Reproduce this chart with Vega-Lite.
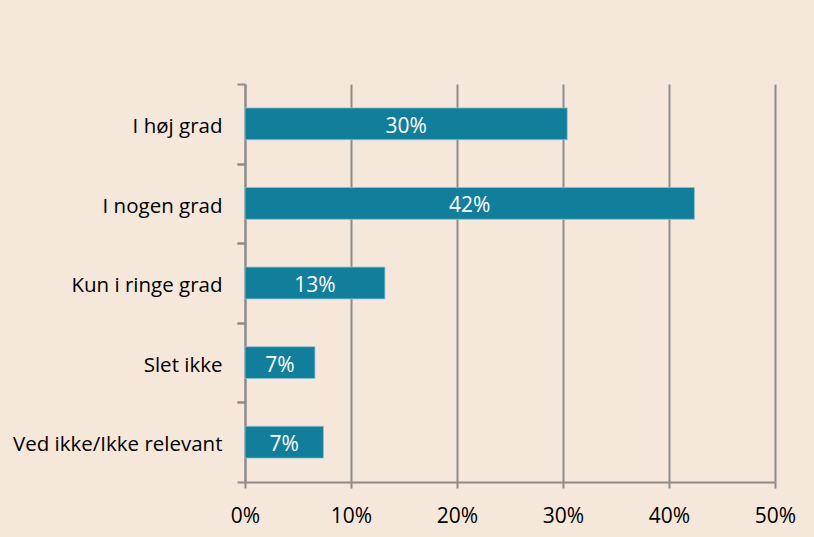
{
  "$schema": "https://vega.github.io/schema/vega-lite/v6.json",
  "width": 530,
  "height": 398,
  "autosize": {"type": "none"},
  "padding": {"left": 245, "top": 84, "right": 39, "bottom": 55},
  "background": "#F5E8DB",
  "config": {
    "view": {"stroke": null},
    "font": "Open Sans"
  },
  "data": {
    "values": [
      {"kategori": "I høj grad", "andel": 0.304},
      {"kategori": "I nogen grad", "andel": 0.424},
      {"kategori": "Kun i ringe grad", "andel": 0.132},
      {"kategori": "Slet ikke", "andel": 0.066},
      {"kategori": "Ved ikke/Ikke relevant", "andel": 0.074}
    ]
  },
  "resolve": {"axis": {"y": "independent"}},
  "layer": [
    {
      "mark": {"type": "bar", "color": "#117E9B", "stroke": "#8FC3D2", "strokeWidth": 0.8},
      "encoding": {
        "x": {
          "field": "andel",
          "type": "quantitative",
          "scale": {"domain": [0, 0.5]},
          "title": null,
          "axis": {
            "format": ".0%",
            "values": [0, 0.1, 0.2, 0.3, 0.4, 0.5],
            "grid": true,
            "gridColor": "#8C8C8C",
            "gridWidth": 2,
            "domainColor": "#8C8C8C",
            "domainWidth": 2,
            "tickColor": "#8C8C8C",
            "tickWidth": 2,
            "tickSize": 6,
            "labelFont": "Open Sans",
            "labelFontSize": 21,
            "labelColor": "#000000",
            "labelPadding": 17,
            "labelFlush": false
          }
        },
        "y": {
          "field": "kategori",
          "type": "nominal",
          "sort": null,
          "title": null,
          "scale": {"paddingInner": 0.6, "paddingOuter": 0.3},
          "axis": {
            "bandPosition": 0.5,
            "tickOffset": -39.8,
            "labelOffset": 42.5,
            "domainColor": "#8C8C8C",
            "domainWidth": 2,
            "tickColor": "#8C8C8C",
            "tickWidth": 2,
            "tickSize": 8,
            "labelFont": "Open Sans",
            "labelFontSize": 20.5,
            "labelColor": "#000000",
            "labelPadding": 15,
            "labelAlign": "right",
            "labelLimit": 300
          }
        }
      }
    },
    {
      "transform": [{"calculate": "datum.andel / 2", "as": "midt"}],
      "mark": {"type": "text", "color": "#FFFFFF", "font": "Open Sans", "fontSize": 21, "baseline": "middle", "dy": 3},
      "encoding": {
        "x": {"field": "midt", "type": "quantitative"},
        "y": {
          "field": "kategori",
          "type": "nominal",
          "sort": null,
          "title": null,
          "axis": {
            "orient": "left",
            "bandPosition": 0.5,
            "tickOffset": 39.8,
            "domain": false,
            "labels": false,
            "tickColor": "#8C8C8C",
            "tickWidth": 2,
            "tickSize": 8,
            "offset": 0
          }
        },
        "text": {"field": "andel", "type": "quantitative", "format": ".0%"}
      }
    }
  ]
}
